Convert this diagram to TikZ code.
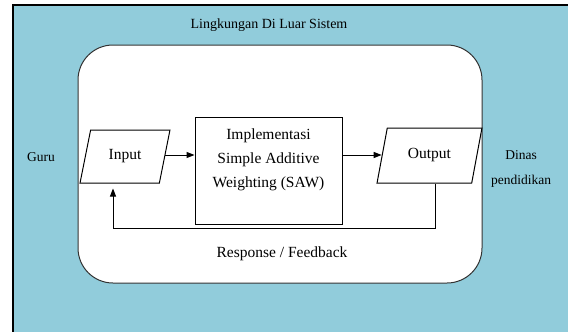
\documentclass[tikz,border=0pt]{standalone}
\usepackage{fontspec}
\setmainfont{Liberation Serif}
\usetikzlibrary{shapes.geometric,arrows.meta}
\definecolor{envblue}{RGB}{145,204,219}
\tikzset{
	io/.style={trapezium, trapezium left angle=72, trapezium right angle=108, trapezium stretches=true, draw, fill=white, line width=1pt, inner sep=2pt, font=\fontsize{15.5}{24}\selectfont},
	procbox/.style={rectangle, draw, line width=1pt, minimum width=147pt, minimum height=107pt},
	txt/.style={font=\fontsize{15.5}{24}\selectfont, align=center, inner sep=0pt},
	side/.style={font=\fontsize{13.5}{25}\selectfont, align=center, inner sep=0pt},
	flow/.style={line width=1pt, -{Triangle[length=8pt,width=6pt]}}
}
\begin{document}
\begin{tikzpicture}[x=1pt, y=-1pt]
	\useasboundingbox (0,0) rectangle (568,332);
	\fill[envblue] (13,5) rectangle (580,345);
	\draw[line width=1.2pt] (13,345) -- (13,5) -- (580,5);
	\draw[fill=white, draw=black!80, line width=1pt, rounded corners=35pt] (78,45) rectangle (482,283);
	\node[font=\fontsize{14}{16}\selectfont, inner sep=0pt] (title) at (269,25) {Lingkungan Di Luar Sistem};
	\node[io, minimum width=90pt, minimum height=53pt] (in) at (125,156.5) {Input};
	\node[procbox] (saw) at (268.5,170.5) {};
	\node[txt] (sawtxt) at (268.5,160) {Implementasi\\Simple Additive\\Weighting (SAW)};
	\node[io, minimum width=105pt, minimum height=55pt] (out) at (429.5,155.5) {Output};
	\node[side] (guru) at (41,157) {Guru};
	\node[side] (dinas) at (521,169) {Dinas\\pendidikan};
	\node[txt] (fb) at (282,254) {Response / Feedback};
	\coordinate (fbR) at (435,228);
	\coordinate (fbL) at (113,228);
	\draw[flow] (in.east |- 0,155) -- (saw.west |- 0,155);
	\draw[flow] (saw.east |- 0,155) -- (out.west |- 0,155);
	\draw[line width=1pt] (out.south -| fbR) -- (fbR) -- (fbL);
	\draw[flow, shorten >=5pt] (fbL) -- (in.south -| fbL);
\end{tikzpicture}
\end{document}
